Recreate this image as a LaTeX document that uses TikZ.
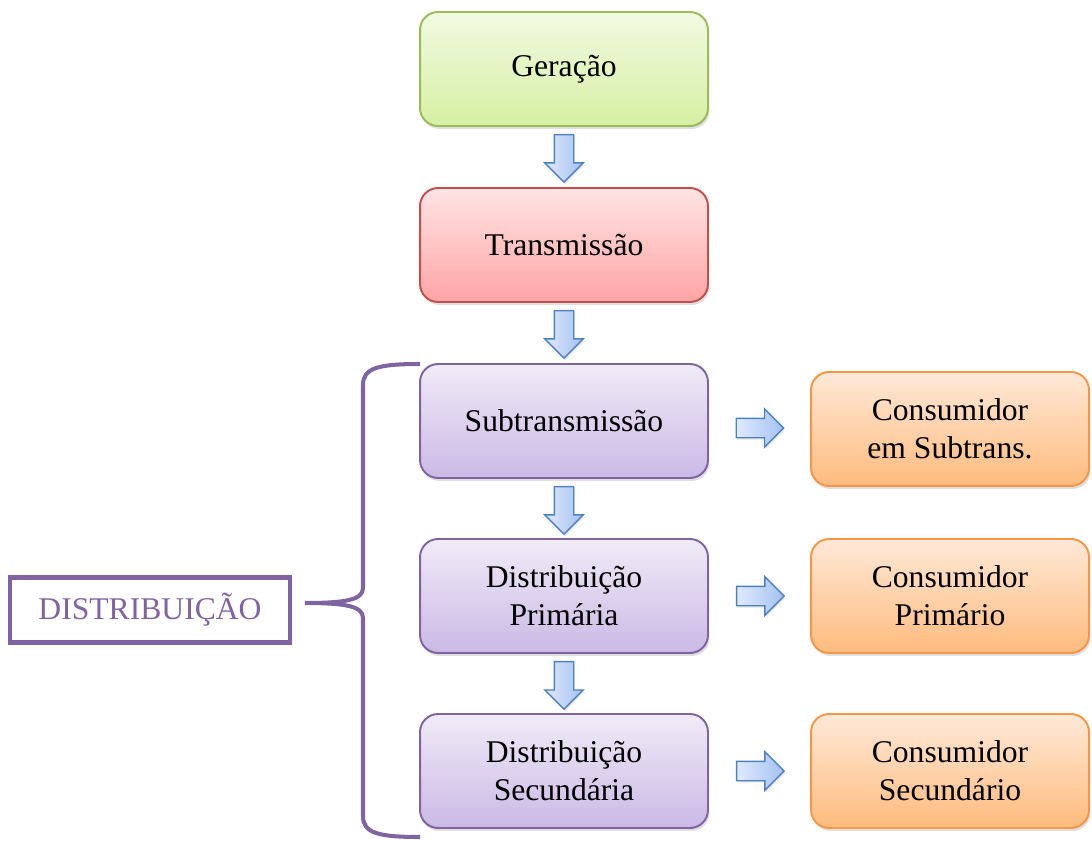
\documentclass[tikz,border=0pt]{standalone}
\usepackage{fontspec}
\setmainfont{Liberation Serif}
\usetikzlibrary{shapes.arrows,shadows,calc}
\pgfdeclarelayer{edgelayer}
\pgfdeclarelayer{nodelayer}
\pgfsetlayers{edgelayer,nodelayer,main}
\definecolor{genline}{HTML}{9BBB59}
\definecolor{gentop}{HTML}{F1FAE2}
\definecolor{genbot}{HTML}{D6F0A2}
\definecolor{trline}{HTML}{C0504D}
\definecolor{trtop}{HTML}{FFE4E4}
\definecolor{trbot}{HTML}{FFA4A4}
\definecolor{puline}{HTML}{8064A2}
\definecolor{putop}{HTML}{F0EBF7}
\definecolor{pubot}{HTML}{CBB9E5}
\definecolor{orline}{HTML}{F79646}
\definecolor{ortop}{HTML}{FFE9D8}
\definecolor{orbot}{HTML}{FFBB7E}
\definecolor{arline}{HTML}{4F81BD}
\definecolor{artop}{HTML}{E0EAFC}
\definecolor{arbot}{HTML}{A4C1F3}
\tikzstyle{stage}=[rectangle, rounded corners=0.36cm, minimum width=5.76cm, minimum height=2.28cm, line width=1.1pt, align=center, font=\fontsize{18}{21.5}\selectfont, drop shadow={opacity=0.25, shadow xshift=0.03cm, shadow yshift=-0.06cm}]
\tikzstyle{gen}=[stage, draw=genline, top color=gentop, bottom color=genbot]
\tikzstyle{trans}=[stage, draw=trline, top color=trtop, bottom color=trbot]
\tikzstyle{dist}=[stage, draw=puline, top color=putop, bottom color=pubot]
\tikzstyle{cons}=[stage, minimum width=5.56cm, draw=orline, top color=ortop, bottom color=orbot]
\tikzstyle{flow}=[single arrow, anchor=tail, draw=arline, line width=0.8pt, left color=artop, right color=arbot, inner sep=0.18cm, minimum height=0.95cm, single arrow head extend=0.19cm, drop shadow={opacity=0.2, shadow xshift=0.02cm, shadow yshift=-0.04cm}]
\tikzstyle{group}=[draw=puline, line width=2.3pt, minimum width=5.6cm, minimum height=1.3cm, text=puline, font=\fontsize{18}{21.5}\selectfont]

\begin{document}
\begin{tikzpicture}[x=0.02cm, y=0.02cm]
			\useasboundingbox (0,0) rectangle (1092,840);
			\begin{pgfonlayer}{nodelayer}
			\node [style=gen] (g) at (564, 771) {Geração};
			\node [style=trans] (t) at (564, 595) {Transmissão};
			\node [style=dist] (st) at (564, 419) {Subtransmissão};
			\node [style=dist] (dp) at (564, 244) {Distribuição\\Primária};
			\node [style=dist] (ds) at (564, 69) {Distribuição\\Secundária};
			\node [style=cons] (cst) at (950, 411) {Consumidor\\em Subtrans.};
			\node [style=cons] (cp) at (950, 244) {Consumidor\\Primário};
			\node [style=cons] (cs) at (950, 69) {Consumidor\\Secundário};
			\node [style=group] (dist) at (150, 230) {DISTRIBUIÇÃO};
			\end{pgfonlayer}
			\begin{pgfonlayer}{edgelayer}
			\node [style=flow, rotate=-90] at ($(g.south)+(0,-7)$) {};
			\node [style=flow, rotate=-90] at ($(t.south)+(0,-7)$) {};
			\node [style=flow, rotate=-90] at ($(st.south)+(0,-7)$) {};
			\node [style=flow, rotate=-90] at ($(dp.south)+(0,-7)$) {};
			\node [style=flow] at ($(st.east)!0.5!(cst.west)+(-24,-3)$) {};
			\node [style=flow] at ($(dp.east)+(27,0)$) {};
			\node [style=flow] at ($(ds.east)+(27,0)$) {};
			\end{pgfonlayer}
			% brace round the three distribution stages
			\coordinate (btop) at (420, 476);
			\coordinate (btip) at (305, 237);
			\coordinate (bbot) at (420, 3);
			\draw [draw=puline, line width=2.3pt] (btop) .. controls (378, 476) and (363, 472) .. (363, 455)
				-- (363, 252) .. controls (363, 240) and (345, 237) .. (btip)
				.. controls (345, 237) and (363, 234) .. (363, 222)
				-- (363, 24) .. controls (363, 7) and (378, 3) .. (bbot);
			\end{tikzpicture}
\end{document}
